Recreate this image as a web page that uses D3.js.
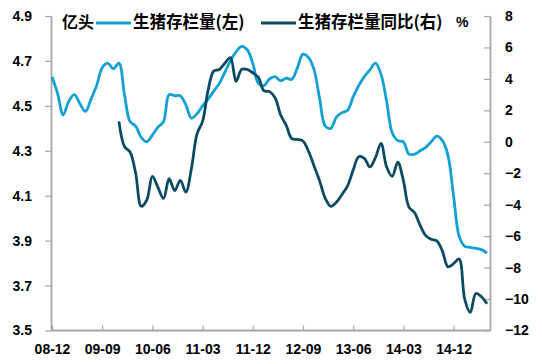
<!DOCTYPE html>
<html><head><meta charset="utf-8">
<script src="https://cdn.jsdelivr.net/npm/d3@7/dist/d3.min.js"></script>
<style>
html,body{margin:0;padding:0;background:#fff;}
svg{display:block;}
text{font-family:"Liberation Sans","DejaVu Sans",sans-serif;font-weight:bold;fill:#000;}
.cjk{font-family:"Noto Sans CJK SC",sans-serif;font-weight:bold;}
</style></head>
<body><svg id="c" width="542" height="364"></svg>
<script>
// Categories: monthly, 2008-12 .. 2015-06
const startYear = 2008, startMonth = 12, monthCount = 79;
const months = [];
for (let i = 0; i < monthCount; i++) {
  const t = (startMonth - 1) + i;
  const yy = startYear + Math.floor(t / 12), mm = (t % 12) + 1;
  months.push(String(yy).slice(2) + "-" + String(mm).padStart(2, "0"));
}
const tickLabels = ["08-12","09-09","10-06","11-03","11-12","12-09","13-06","14-03","14-12"];
const leftTicks = [3.5,3.7,3.9,4.1,4.3,4.5,4.7,4.9];
const rightTicks = [-12,-10,-8,-6,-4,-2,0,2,4,6,8];

// 生猪存栏量 (亿头), left axis, 2008-12 .. 2015-06
const stock = [4.63,4.555,4.46,4.52,4.55,4.51,4.475,4.53,4.59,4.67,
  4.69,4.665,4.69,4.55,4.43,4.41,4.36,4.34,4.37,4.405,
  4.43,4.55,4.545,4.545,4.505,4.445,4.465,4.50,4.53,4.565,
  4.60,4.65,4.70,4.74,4.765,4.75,4.69,4.60,4.59,4.62,
  4.63,4.612,4.623,4.618,4.67,4.73,4.715,4.66,4.53,4.41,
  4.40,4.45,4.47,4.48,4.54,4.59,4.63,4.66,4.69,4.64,
  4.52,4.38,4.345,4.34,4.285,4.285,4.30,4.315,4.34,4.365,
  4.345,4.28,4.10,3.92,3.875,3.87,3.866,3.86,3.845];
// 生猪存栏量同比 (%), right axis, 2009-12 .. 2015-06
const yoyStart = "09-12";
const yoy = [1.3,-0.3,-0.65,-2.0,-4.1,-3.7,-2.2,-2.9,-3.6,-2.35,
  -3.1,-2.45,-3.2,-1.7,0.5,1.3,3.3,4.5,4.6,5.0,
  5.35,3.85,4.6,4.6,4.38,4.1,3.25,3.19,2.8,1.7,
  1.05,0.2,0.15,0.05,-0.6,-1.55,-2.5,-3.6,-4.1,-3.85,
  -3.35,-2.8,-1.8,-0.95,-1.05,-1.6,-1.0,-0.1,-1.6,-2.2,
  -1.3,-2.45,-4.15,-4.5,-5.3,-5.95,-6.2,-6.3,-6.95,-7.95,
  -7.75,-7.45,-10.0,-10.85,-9.65,-9.85,-10.3];

const seriesNames = ["生猪存栏量(左)", "生猪存栏量同比(右)"];
const colors = ["#12a0d3", "#0b4a62"];

const svg = d3.select("#c");
const pL = 51, pR = 490, pT = 16, pB = 330.5;
const x = d3.scalePoint().domain(months).range([pL + 1, 487]);
const yL = d3.scaleLinear().domain([3.5, 4.9]).range([pB, pT]);
const yR = d3.scaleLinear().domain([-12, 8]).range([pB, pT]);

const axisColor = "#a6a6a6";
// left axis
const gL = svg.append("g").attr("transform", `translate(${pL},0)`)
  .call(d3.axisLeft(yL).tickValues(leftTicks).tickSize(6).tickSizeOuter(0).tickPadding(13).tickFormat(d3.format(".1f")));
// right axis (ticks inward)
const gR = svg.append("g").attr("transform", `translate(${pR},0)`)
  .call(d3.axisLeft(yR).tickValues(rightTicks).tickSize(6).tickSizeOuter(0).tickFormat(d3.format("d")));
gR.selectAll("text").attr("text-anchor", "start").attr("x", 15);
// bottom axis (ticks inward)
const gB = svg.append("g").attr("transform", `translate(0,${pB})`)
  .call(d3.axisTop(x).tickValues(tickLabels).tickSize(5).tickSizeOuter(0));
gB.select(".domain").attr("d", `M${pL},0H${pR}`);
gB.selectAll("text").attr("y", 14).attr("dy", "0.71em");

[gL, gR, gB].forEach(g => {
  g.selectAll(".domain").attr("stroke", axisColor).attr("stroke-width", 1.8);
  g.selectAll(".tick line").attr("stroke", axisColor).attr("stroke-width", 1.2);
  g.selectAll("text").style("font-size", "14px").style("font-weight", "bold").attr("fill", "#000");
});

// lines
const lineL = d3.line().x((d, i) => x(months[i])).y(d => yL(d)).curve(d3.curveCatmullRom.alpha(0.5));
svg.append("path").datum(stock).attr("d", lineL)
  .attr("fill", "none").attr("stroke", colors[0]).attr("stroke-width", 2.8);
const off = months.indexOf(yoyStart);
const lineR = d3.line().x((d, i) => x(months[i + off])).y(d => yR(d)).curve(d3.curveCatmullRom.alpha(0.5));
svg.append("path").datum(yoy).attr("d", lineR)
  .attr("fill", "none").attr("stroke", colors[1]).attr("stroke-width", 2.8);

// legend & unit labels
const ly = 22;
svg.append("text").attr("class", "cjk").attr("x", 62).attr("y", ly).attr("dy", "0.35em")
  .style("font-size", "16px").text("亿头");
svg.append("line").attr("x1", 96).attr("x2", 131).attr("y1", ly + 1).attr("y2", ly + 1)
  .attr("stroke", colors[0]).attr("stroke-width", 2.8);
svg.append("text").attr("class", "cjk").attr("x", 133).attr("y", ly).attr("dy", "0.35em")
  .style("font-size", "16.5px").text(seriesNames[0]);
svg.append("line").attr("x1", 261).attr("x2", 296).attr("y1", ly + 1).attr("y2", ly + 1)
  .attr("stroke", colors[1]).attr("stroke-width", 2.8);
svg.append("text").attr("class", "cjk").attr("x", 298).attr("y", ly).attr("dy", "0.35em")
  .style("font-size", "16.5px").text(seriesNames[1]);
svg.append("text").attr("x", 456).attr("y", ly).attr("dy", "0.35em")
  .style("font-size", "14px").text("%");
</script></body></html>
